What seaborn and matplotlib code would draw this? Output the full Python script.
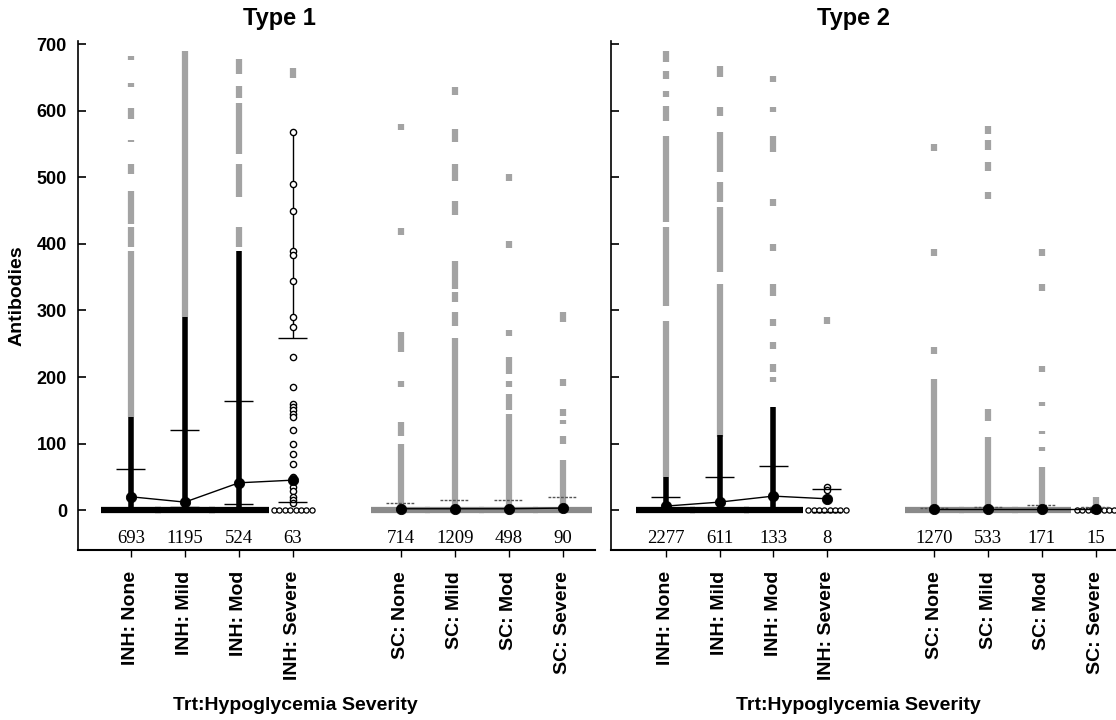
import numpy as np
import pandas as pd
import seaborn as sns
import matplotlib.pyplot as plt

# categories (INH group, gap, SC group)
categories = ["INH: None", "INH: Mild", "INH: Mod", "INH: Severe",
              "SC: None", "SC: Mild", "SC: Mod", "SC: Severe"]
panels = ["Type 1", "Type 2"]

# number of patients per category
t1_counts = [693, 1195, 524, 63, 714, 1209, 498, 90]
t2_counts = [2277, 611, 133, 8, 1270, 533, 171, 15]

# mean (big black dot) per category
t1_means = [20, 12, 41, 45, 2, 2, 2, 3]
t2_means = [6, 12, 21, 17, 1, 1, 1, 1]

# upper / lower bars
t1_upper = [62, 121, 164, 258, 10, 15, 15, 20]
t1_lower = [np.nan, 5, 9, 12, np.nan, np.nan, np.nan, np.nan]
t2_upper = [20, 50, 66, 32, 3, 5, 8, 5]
t2_lower = [np.nan, np.nan, np.nan, -3, np.nan, np.nan, np.nan, np.nan]

# top of the dense black column of points (INH only)
t1_dense = [140, 290, 390, 0, 0, 0, 0, 0]
t2_dense = [50, 113, 155, 0, 0, 0, 0, 0]

# grey columns of individual values (low, high)
t1_grey = [
    [(140, 390), (395, 425), (430, 480), (505, 520), (553, 557), (588, 605), (636, 642), (676, 682)],
    [(290, 690)],
    [(395, 425), (470, 520), (535, 612), (620, 637), (655, 678)],
    [(650, 665)],
    [(0, 100), (112, 132), (185, 194), (238, 268), (414, 424), (571, 580)],
    [(0, 258), (277, 298), (313, 328), (333, 374), (444, 465), (495, 520), (553, 573), (624, 636)],
    [(0, 145), (150, 175), (185, 194), (205, 230), (262, 270), (394, 405), (495, 505)],
    [(0, 75), (100, 112), (130, 135), (141, 152), (186, 197), (283, 298)],
]
t2_grey = [
    [(50, 284), (307, 425), (433, 562), (585, 607), (621, 630), (648, 660), (673, 690)],
    [(110, 340), (358, 456), (463, 493), (508, 568), (593, 606), (651, 668)],
    [(193, 200), (208, 220), (242, 253), (277, 287), (322, 340), (390, 400), (457, 468),
     (538, 562), (598, 606), (644, 653)],
    [(280, 290)],
    [(0, 197), (235, 245), (382, 392), (540, 550)],
    [(0, 110), (134, 152), (468, 478), (510, 523), (541, 556), (565, 577)],
    [(0, 65), (89, 95), (114, 119), (156, 162), (208, 217), (329, 340), (382, 392)],
    [(0, 20)],
]

# individual open circles (INH: Severe)
t1_severe_pts = [568, 490, 450, 390, 383, 345, 290, 275, 230, 185, 160, 155, 150, 145,
                 140, 120, 100, 85, 70, 50, 35, 28, 20, 15, 10]
t2_severe_pts = [35, 30, 18, 15]
t1_severe_whisker = (258, 568)

panel_data = [
    (t1_counts, t1_means, t1_upper, t1_lower, t1_dense, t1_grey, t1_severe_pts),
    (t2_counts, t2_means, t2_upper, t2_lower, t2_dense, t2_grey, t2_severe_pts),
]

sns.set_style("ticks")
plt.rcParams["font.family"] = ["Liberation Sans", "DejaVu Sans"]
for key in ["text.color", "axes.labelcolor", "xtick.color", "ytick.color", "axes.edgecolor"]:
    plt.rcParams[key] = "black"

GREY = "#a3a3a3"
pos = [i if i < 4 else i + 1 for i in range(len(categories))]

fig = plt.figure(figsize=(11.16, 7.2), dpi=100)
ax1 = fig.add_axes([0.0699, 0.2361, 0.4633, 0.7069])
ax2 = fig.add_axes([0.5475, 0.2361, 0.4525, 0.7069])
axes = [ax1, ax2]
xlims = [(-0.98, 8.6), (-1.02, 8.38)]
title_x = [0.39, 0.48]
xlabel_x = [0.42, 0.49]

for k, ax in enumerate(axes):
    counts, means, upper, lower, dense, grey, sev_pts = panel_data[k]

    for i, cat in enumerate(categories):
        x = pos[i]
        inh = cat.startswith("INH")
        segs = grey[i]
        ax.vlines([x] * len(segs), [s[0] for s in segs], [s[1] for s in segs],
                  color=GREY, lw=4.5, zorder=2)
        if dense[i] > 0:
            ax.vlines(x, 0, dense[i], color="black", lw=4, zorder=3)
        # values at zero spread sideways
        if counts[i] < 70:
            ax.scatter(np.linspace(x - 0.35, x + 0.35, 8), [0] * 8, s=14,
                       facecolor="white", edgecolor="black", lw=0.9, zorder=3)
        else:
            ax.hlines(0, x - 0.55, x + 0.55, color="black" if inh else "#8a8a8a",
                      lw=4.5, zorder=3)
        # upper / lower bars
        ls = "-" if inh else (0, (2, 1))
        col = "black" if inh else "#555555"
        ax.hlines(upper[i], x - 0.27, x + 0.27, color=col, lw=1, linestyles=ls, zorder=5)
        if not np.isnan(lower[i]):
            ax.hlines(lower[i], x - 0.27, x + 0.27, color=col, lw=1, linestyles=ls, zorder=5)
        ax.text(x, -42, str(counts[i]), ha="center", va="center",
                fontsize=13.5, family="Liberation Serif")

    # INH: Severe open circles
    sev = pd.DataFrame({"x": [pos[3]] * len(sev_pts), "y": sev_pts})
    sns.scatterplot(data=sev, x="x", y="y", ax=ax, s=20, color="white",
                    edgecolor="black", linewidth=1, zorder=4, legend=False)
    if k == 0:
        ax.vlines(pos[3], t1_severe_whisker[0], t1_severe_whisker[1],
                  color="black", lw=1, zorder=3)

    # mean lines and dots
    mdf = pd.DataFrame({"x": pos, "y": means,
                        "grp": ["INH"] * 4 + ["SC"] * 4})
    sns.lineplot(data=mdf, x="x", y="y", units="grp", estimator=None,
                 color="black", lw=1, ax=ax, zorder=5)
    sns.scatterplot(data=mdf, x="x", y="y", ax=ax, s=55, color="black",
                    edgecolor="black", zorder=6, legend=False)

    ax.set_xlim(*xlims[k])
    ax.set_ylim(-60, 705)
    ax.set_xticks(pos)
    ax.set_xticklabels(categories, rotation=90, fontsize=14, fontweight="bold")
    ax.set_yticks(range(0, 701, 100))
    ax.tick_params(axis="x", direction="out", length=5, width=1, pad=10)
    ax.tick_params(axis="y", direction="in", length=6, width=1.2, pad=8)
    if k == 0:
        ax.set_yticklabels([str(v) for v in range(0, 701, 100)],
                           fontsize=13, fontweight="bold")
        ax.set_ylabel("Antibodies", fontsize=14, fontweight="bold", labelpad=8)
    else:
        ax.set_yticklabels([])
        ax.set_ylabel("")
    ax.set_xlabel("Trt:Hypoglycemia Severity", fontsize=14, fontweight="bold",
                  x=xlabel_x[k], labelpad=12)
    ax.text(title_x[k], 1.045, panels[k], transform=ax.transAxes, ha="center",
            va="center", fontsize=17, fontweight="bold")
    sns.despine(ax=ax)
    ax.spines["left"].set_linewidth(1.2)
    ax.spines["bottom"].set_linewidth(1.5)

fig.savefig("out.png", dpi=100)
